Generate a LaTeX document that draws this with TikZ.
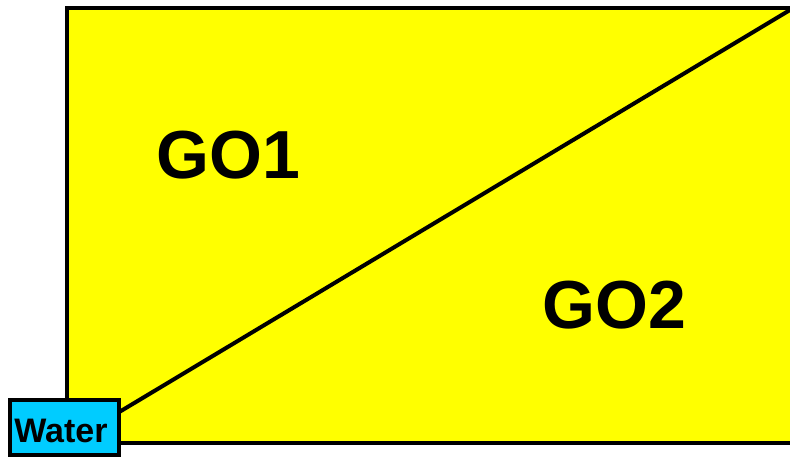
\documentclass[tikz,border=0pt]{standalone}
\usepackage{fontspec}
\setmainfont{Liberation Sans}
\definecolor{fieldyellow}{RGB}{255,255,0}
\definecolor{watercyan}{RGB}{0,204,255}
\begin{document}
\begin{tikzpicture}[x=1pt,y=1pt,
  field/.style={draw=black, line width=4pt, fill=fieldyellow, inner sep=0pt, anchor=south west},
  big/.style={font=\fontsize{68}{68}\selectfont\bfseries, inner sep=0pt},
  waterbox/.style={draw=black, line width=4pt, fill=watercyan, inner sep=0pt, anchor=south west},
  waterlabel/.style={font=\fontsize{34}{34}\selectfont\bfseries, inner sep=0pt}]
\useasboundingbox (0,0) rectangle (790,458);
\node[field, minimum width=728pt, minimum height=434.7pt] (rect) at (64.7,13.3) {};
\draw[line width=4pt] (rect.south west) -- (rect.north east);
\node[big] (go1) at (228,303) {GO1};
\node[big] (go2) at (614,153) {GO2};
\node[waterbox, minimum width=109pt, minimum height=55pt] (water) at (8,1) {};
\node[waterlabel] (wlabel) at (61,27) {Water};
\end{tikzpicture}
\end{document}
